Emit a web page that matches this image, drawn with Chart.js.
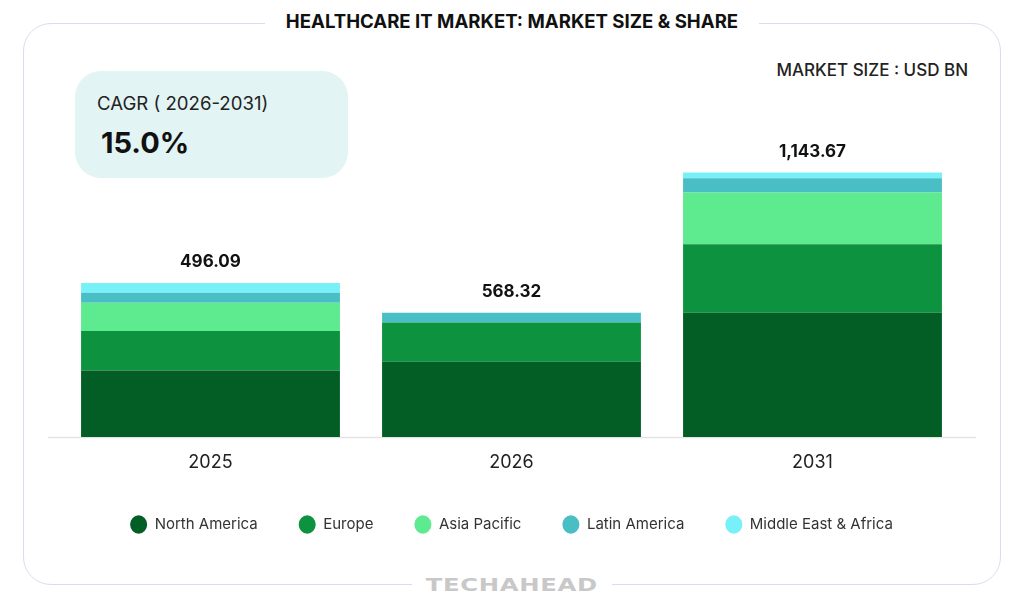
<!DOCTYPE html>
<html>
<head>
<meta charset="utf-8">
<script src="https://cdn.jsdelivr.net/npm/chart.js@4"></script>
<style>
  body { margin: 0; background: #fff; font-family: Inter, sans-serif; }
  #wrap { position: relative; width: 1024px; height: 609px; overflow: hidden; }
  .frame { position: absolute; left: 23px; top: 23px; width: 978px; height: 562px; box-sizing: border-box;
           border: 1.5px solid #dddaf1; border-radius: 28px; }
  .title { position: absolute; left: 0; width: 1024px; top: 10px; text-align: center; }
  .title span { background: #fff; padding: 0 21px; font-size: 18.6px; font-weight: 700; color: #111; line-height: 22px; }
  .unit { position: absolute; right: 56px; top: 60px; font-size: 17px; font-weight: 500; color: #222; }
  .cagr { position: absolute; left: 75px; top: 71px; width: 273px; height: 107px; background: #e2f4f3; border-radius: 26px; }
  .cagr .lbl { position: absolute; left: 22px; top: 21px; font-size: 18.6px; color: #222; }
  .cagr .val { position: absolute; left: 26px; top: 54px; font-size: 29px; font-weight: 700; color: #111; }
  .foot { position: absolute; left: 0; width: 1024px; top: 574px; text-align: center; }
  .foot span { display: inline-block; background: #fff; padding: 0 10px; font-family: "DejaVu Sans", sans-serif;
               font-weight: 700; font-size: 18px; color: #c8c8c8; line-height: 22px; transform: scaleX(1.35); letter-spacing: 0.5px; }
  canvas { position: absolute; left: 0; top: 0; }
</style>
</head>
<body>
<div id="wrap">
  <div class="frame"></div>
  <div class="title"><span>HEALTHCARE IT MARKET: MARKET SIZE &amp; SHARE</span></div>
  <div class="unit">MARKET SIZE : USD BN</div>
  <div class="cagr"><div class="lbl">CAGR ( 2026-2031)</div><div class="val">15.0%</div></div>
  <div class="foot"><span>TECHAHEAD</span></div>
  <canvas id="chart" width="1024" height="609"></canvas>
</div>
<script>
// categories and labels
var years = ['2025', '2026', '2031'];
var totalLabels = ['496.09', '568.32', '1,143.67'];

// segment sizes as drawn (the picture is not to scale with the totals)
var northAmerica = [66, 74.7, 123.4];
var europe = [39.4, 39, 68];
var asiaPacific = [28, 0, 51.6];
var latinAmerica = [10, 9.7, 14];
var middleEastAfrica = [9.6, 0, 5.7];

Chart.defaults.font.family = 'Inter, sans-serif';

var totalsPlugin = {
    id: 'totals',
    afterDatasetsDraw: function(chart) {
        var ctx = chart.ctx;
        var last = chart.getDatasetMeta(chart.data.datasets.length - 1);
        ctx.save();
        ctx.font = '700 17px Inter, sans-serif';
        ctx.fillStyle = '#111';
        ctx.textAlign = 'center';
        ctx.textBaseline = 'middle';
        last.data.forEach(function(bar, i) {
            ctx.fillText(totalLabels[i], bar.x, bar.y - 21);
        });
        ctx.restore();
    }
};

var baseLinePlugin = {
    id: 'baseLine',
    beforeDatasetsDraw: function(chart) {
        var ctx = chart.ctx;
        var a = chart.chartArea;
        ctx.save();
        ctx.strokeStyle = '#e4e4e4';
        ctx.lineWidth = 1.5;
        ctx.beginPath();
        ctx.moveTo(a.left - 12, a.bottom + 0.5);
        ctx.lineTo(a.right + 13, a.bottom + 0.5);
        ctx.stroke();
        ctx.restore();
    }
};

new Chart(document.getElementById('chart').getContext('2d'), {
    type: 'bar',
    data: {
        labels: years,
        datasets: [
            { label: 'North America', data: northAmerica, backgroundColor: '#035e25' },
            { label: 'Europe', data: europe, backgroundColor: '#0d923f' },
            { label: 'Asia Pacific', data: asiaPacific, backgroundColor: '#5eea8f' },
            { label: 'Latin America', data: latinAmerica, backgroundColor: '#4abec5' },
            { label: 'Middle East & Africa', data: middleEastAfrica, backgroundColor: '#78f0f7' }
        ]
    },
    options: {
        responsive: false,
        animation: false,
        barPercentage: 0.86,
        categoryPercentage: 1.0,
        layout: { padding: { left: 60, right: 61, top: 135, bottom: 67 } },
        scales: {
            x: {
                stacked: true,
                grid: { display: false, drawTicks: false },
                border: { display: false },
                ticks: { color: '#222', font: { size: 18 }, padding: 15 },
                afterFit: function(scale) { scale.height = 39; }
            },
            y: {
                stacked: true,
                display: false,
                min: 0,
                max: 300
            }
        },
        plugins: {
            tooltip: { enabled: false },
            legend: {
                position: 'bottom',
                labels: {
                    usePointStyle: true,
                    pointStyle: 'circle',
                    pointStyleWidth: 17,
                    boxHeight: 13,
                    padding: 41,
                    color: '#333',
                    font: { size: 15 }
                }
            }
        }
    },
    plugins: [totalsPlugin, baseLinePlugin]
});
</script>
</body>
</html>
